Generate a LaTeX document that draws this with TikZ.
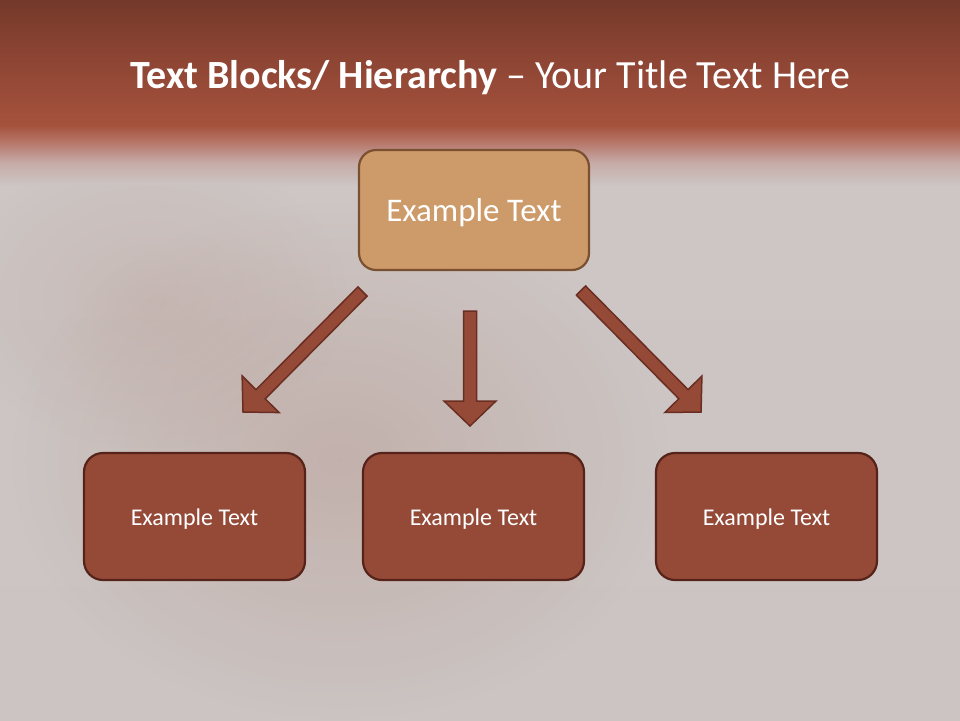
\documentclass[tikz,border=0pt]{standalone}
\usepackage{fontspec}
\setmainfont{Carlito}
\usetikzlibrary{calc,fadings}
\definecolor{bandtop}{HTML}{74392A}
\definecolor{bandmid}{HTML}{8E4534}
\definecolor{bandlow}{HTML}{A5523C}
\definecolor{fadea}{HTML}{B7776A}
\definecolor{fadeb}{HTML}{C6ABA7}
\definecolor{bggray}{HTML}{CDC6C4}
\definecolor{bgbot}{HTML}{CBC4C2}
\definecolor{topfill}{HTML}{CD9A6A}
\definecolor{topline}{HTML}{7A5030}
\definecolor{botfill}{HTML}{954A38}
\definecolor{botline}{HTML}{56231A}
\definecolor{arrline}{HTML}{6A2D21}
\definecolor{blotch}{HTML}{9C5F4E}
\tikzfading[name=softblob, inner color=transparent!0, outer color=transparent!100]
\pgfdeclareverticalshading{bgshade}{100bp}{%
  color(0bp)=(bgbot);
  color(25bp)=(bgbot);
  color(62.1bp)=(bggray);
  color(63.7bp)=(fadeb);
  color(65.1bp)=(fadea);
  color(66.3bp)=(bandlow);
  color(70.8bp)=(bandmid);
  color(75bp)=(bandtop);
  color(100bp)=(bandtop)}
\newcommand\blockarr[2]{%
  \path ($(#2)!25pt!(#1)$) coordinate (h);
  \filldraw[arrowshape] ($(#1)!6.5pt!90:(#2)$) -- ($(h)!6.5pt!90:(#2)$)
    -- ($(h)!26pt!90:(#2)$) -- (#2) -- ($(h)!26pt!-90:(#2)$)
    -- ($(h)!6.5pt!-90:(#2)$) -- ($(#1)!6.5pt!-90:(#2)$) -- cycle;}
\newcommand\lowered[2]{\raisebox{-#1}[\height][\depth]{#2}}
\begin{document}
\begin{tikzpicture}[x=1pt,y=-1pt,
  topbox/.style={draw=topline, fill=topfill, line width=2.2pt, rounded corners=17pt,
    minimum width=230pt, minimum height=120pt, text=white,
    font=\fontsize{33}{38}\selectfont},
  botbox/.style={draw=botline, fill=botfill, line width=2.2pt, rounded corners=19pt,
    minimum width=221pt, minimum height=127pt, text=white,
    font=\fontsize{24}{29}\selectfont},
  arrowshape/.style={fill=botfill, draw=arrline, line width=1.5pt, line join=miter}]
\useasboundingbox (0,0) rectangle (960,720);
\shade[shading=bgshade] (0,0) rectangle (960,720);
\begin{scope}
\clip (0,185) rectangle (960,720);
\fill[blotch, opacity=0.2, path fading=softblob] (340,460) ellipse [x radius=330pt, y radius=260pt];
\fill[blotch, opacity=0.12, path fading=softblob] (150,300) ellipse [x radius=200pt, y radius=150pt];
\end{scope}
\node[anchor=base west, text=white, font=\fontsize{40}{48}\selectfont, inner sep=0pt] (title) at (130,88)
  {\textbf{Text Blocks/ Hierarchy} – Your Title Text Here};
\node[topbox] (top) at (474,210) {\lowered{3pt}{Example Text}};
\node[botbox] (b1) at (194.5,516.5) {\lowered{2.5pt}{Example Text}};
\node[botbox] (b2) at (473.5,516.5) {\lowered{2.5pt}{Example Text}};
\node[botbox] (b3) at (766.5,516.5) {\lowered{2.5pt}{Example Text}};
\coordinate (l0) at (362.5,291.5);
\coordinate (l1) at (243,412);
\coordinate (m0) at (470,311);
\coordinate (m1) at (470,426);
\coordinate (r0) at (581,290.5);
\coordinate (r1) at (701,412);
\blockarr{l0}{l1}
\blockarr{m0}{m1}
\blockarr{r0}{r1}
\end{tikzpicture}
\end{document}
